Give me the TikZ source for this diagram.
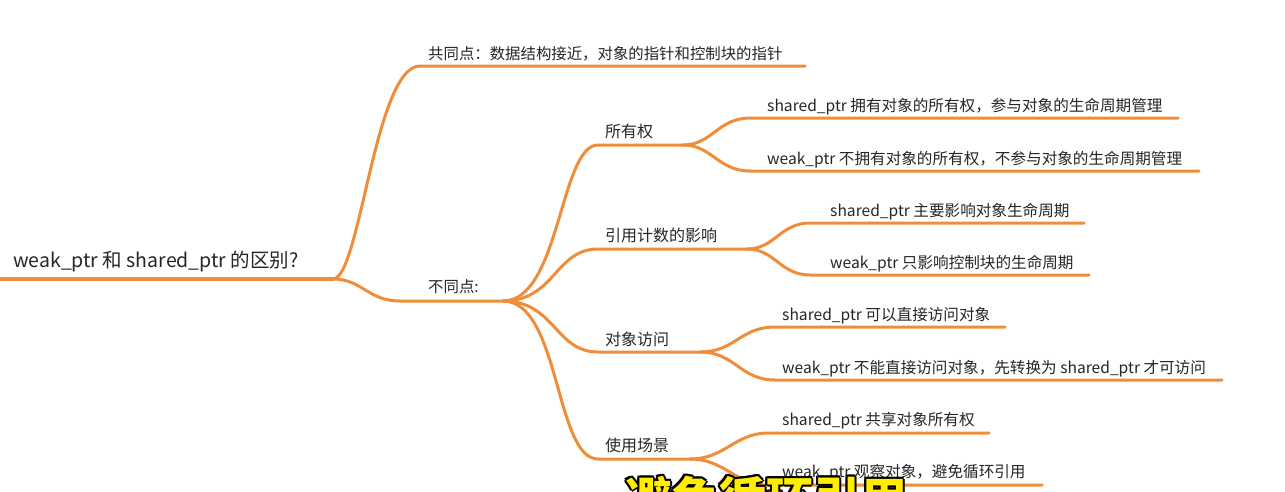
\documentclass[tikz,border=0pt]{standalone}
\usepackage{fontspec}
\setmainfont{Noto Sans CJK SC}
\definecolor{branch}{RGB}{239,141,58}
\definecolor{subyellow}{RGB}{255,236,0}
\tikzset{
  conn/.style={draw=branch,line width=3pt,line cap=round},
  lbl/.style={anchor=base west,inner sep=0pt,text=black!85},
  rootlbl/.style={lbl,font=\fontsize{19.5}{22}\selectfont},
  lvlone/.style={lbl,font=\fontsize{15.4}{19}\selectfont},
  lvltwo/.style={lbl,font=\fontsize{16}{19}\selectfont},
  lvlthree/.style={lbl,font=\fontsize{15.6}{18}\selectfont},
  subtitle/.style={anchor=base west,inner sep=0pt,font=\fontsize{47}{50}\selectfont\bfseries}
}
\begin{document}
\begin{tikzpicture}[x=1pt,y=-1pt]
\useasboundingbox (0,0) rectangle (1285,491);
\clip (0,0) rectangle (1285,491);
\fill[white] (0,0) rectangle (1285,491);

% ---- labels
\node[rootlbl] (root) at (13,267) {weak\_ptr 和 shared\_ptr 的区别?};
\node[lvlone] (same) at (428,59) {共同点：数据结构接近，对象的指针和控制块的指针};
\node[lvlone] (diff) at (428,292) {不同点:};
\node[lvltwo] (own) at (605,137) {所有权};
\node[lvltwo] (cnt) at (605,241) {引用计数的影响};
\node[lvltwo] (acc) at (605,345) {对象访问};
\node[lvltwo] (use) at (605,451) {使用场景};
\node[lvlthree] (a1) at (767,111) {shared\_ptr 拥有对象的所有权，参与对象的生命周期管理};
\node[lvlthree] (a2) at (767,164) {weak\_ptr 不拥有对象的所有权，不参与对象的生命周期管理};
\node[lvlthree] (b1) at (830,216) {shared\_ptr 主要影响对象生命周期};
\node[lvlthree] (b2) at (830,268) {weak\_ptr 只影响控制块的生命周期};
\node[lvlthree] (c1) at (782,320) {shared\_ptr 可以直接访问对象};
\node[lvlthree] (c2) at (782,373) {weak\_ptr 不能直接访问对象，先转换为 shared\_ptr 才可访问};
\node[lvlthree] (d1) at (782,425) {shared\_ptr 共享对象所有权};
\node[lvlthree] (d2) at (782,477) {weak\_ptr 观察对象，避免循环引用};

% ---- junction / line coordinates
\coordinate (r0) at (-5,279);
\coordinate (j0) at (333,279);
\coordinate (s0) at (420,66);  \coordinate (s1) at (805,66);
\coordinate (d0) at (400,301); \coordinate (j1) at (503,301);
\coordinate (o0) at (598,145); \coordinate (jo) at (683,145);
\coordinate (n0) at (598,249); \coordinate (jn) at (747,249);
\coordinate (k0) at (598,352); \coordinate (jk) at (700,352);
\coordinate (u0) at (598,459); \coordinate (ju) at (690,459);
\coordinate (a1s) at (750,118); \coordinate (a1e) at (1178,118);
\coordinate (a2s) at (750,171); \coordinate (a2e) at (1199,171);
\coordinate (b1s) at (810,223); \coordinate (b1e) at (1084,223);
\coordinate (b2s) at (810,275); \coordinate (b2e) at (1089,275);
\coordinate (c1s) at (775,327); \coordinate (c1e) at (1005,327);
\coordinate (c2s) at (775,380); \coordinate (c2e) at (1222,380);
\coordinate (d1s) at (768,433); \coordinate (d1e) at (989,433);
\coordinate (d2s) at (768,485); \coordinate (d2e) at (1042,485);

% ---- connectors
\draw[conn,line width=3.3pt] (r0) -- (j0);
\draw[conn] (j0) .. controls (360,279) and (375,66) .. (s0) -- (s1);
\draw[conn] (j0) .. controls (362,279) and (368,301) .. (d0) -- (j1);

\draw[conn] (j1) .. controls (560,301) and (560,145) .. (o0) -- (jo);
\draw[conn] (j1) .. controls (555,301) and (555,249) .. (n0) -- (jn);
\draw[conn] (j1) .. controls (555,301) and (555,352) .. (k0) -- (jk);
\draw[conn] (j1) .. controls (560,301) and (555,459) .. (u0) -- (ju);

\draw[conn] (jo) .. controls (712,145) and (718,118) .. (a1s) -- (a1e);
\draw[conn] (jo) .. controls (712,145) and (718,171) .. (a2s) -- (a2e);
\draw[conn] (jn) .. controls (775,249) and (780,223) .. (b1s) -- (b1e);
\draw[conn] (jn) .. controls (775,249) and (780,275) .. (b2s) -- (b2e);
\draw[conn] (jk) .. controls (735,352) and (740,327) .. (c1s) -- (c1e);
\draw[conn] (jk) .. controls (735,352) and (740,380) .. (c2s) -- (c2e);
\draw[conn] (ju) .. controls (725,459) and (735,433) .. (d1s) -- (d1e);
\draw[conn] (ju) .. controls (725,459) and (735,485) .. (d2s) -- (d2e);

% ---- video subtitle overlay (cut off at the bottom edge)
\foreach \dx/\dy in {-2/0,2/0,0/-2,0/2,-1.5/-1.5,1.5/-1.5,-1.5/1.5,1.5/1.5}{
  \node[subtitle,text=black] at (625+\dx,516+\dy) {避免循环引用};
}
\node[subtitle,text=subyellow] (sub) at (625,516) {避免循环引用};
\end{tikzpicture}
\end{document}
